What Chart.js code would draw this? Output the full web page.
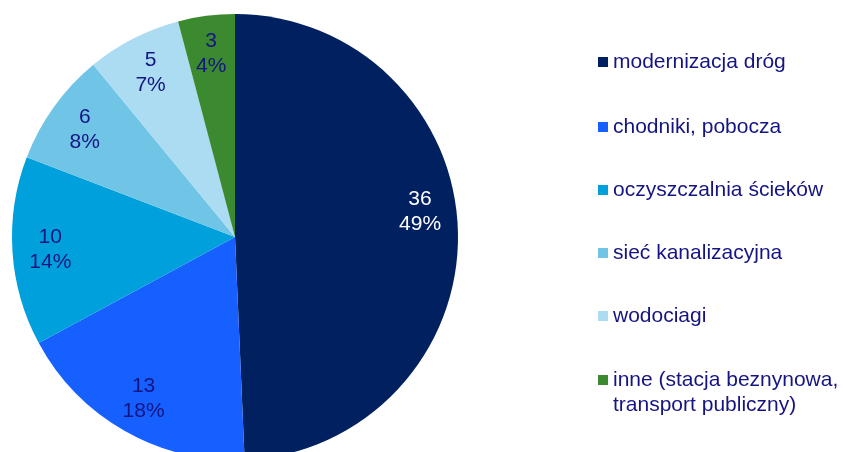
<!DOCTYPE html>
<html>
<head>
<meta charset="utf-8">
<script src="https://cdn.jsdelivr.net/npm/chart.js@4"></script>
<style>
  html, body { margin: 0; padding: 0; background: #fff; overflow: hidden; }
  #wrap { width: 843px; height: 452px; overflow: hidden; position: relative; }
  #wrap canvas { position: absolute; left: 0; top: 0; }
</style>
</head>
<body>
<div id="wrap"><canvas id="pie" width="843" height="460"></canvas></div>
<script>
const labels = ["modernizacja dróg", "chodniki, pobocza", "oczyszczalnia ścieków",
  "sieć kanalizacyjna", "wodociagi", "inne (stacja beznynowa, transport publiczny)"];
const legendLines = [["modernizacja dróg"], ["chodniki, pobocza"], ["oczyszczalnia ścieków"],
  ["sieć kanalizacyjna"], ["wodociagi"], ["inne (stacja beznynowa,", "transport publiczny)"]];
const values = [36, 13, 10, 6, 5, 3];
const colors = ["#002060", "#1660FF", "#00A0DC", "#70C5E6", "#ABDCF1", "#3C8A2F"];
const textColor = "#141482";
const FONT = "21px 'Liberation Sans', Arial, sans-serif";

// value + percent inside each slice
const sliceLabels = {
  id: 'sliceLabels',
  afterDatasetsDraw(chart) {
    const ctx = chart.ctx;
    const meta = chart.getDatasetMeta(0);
    const total = values.reduce((a, b) => a + b, 0);
    ctx.save();
    ctx.font = FONT;
    ctx.textAlign = 'center';
    ctx.textBaseline = 'middle';
    meta.data.forEach((arc, i) => {
      const p = arc.getProps(['x', 'y', 'startAngle', 'endAngle', 'outerRadius'], true);
      const mid = (p.startAngle + p.endAngle) / 2;
      const r = p.outerRadius * 0.83;
      const x = p.x + Math.cos(mid) * r;
      // the big slice's label sits a little higher, like in the original
      const y = p.y + Math.sin(mid) * r - (i === 0 ? 22 : 0);
      ctx.fillStyle = i === 0 ? '#ffffff' : textColor;
      ctx.fillText(String(values[i]), x, y - 12);
      ctx.fillText(Math.round(values[i] / total * 100) + '%', x, y + 13);
    });
    ctx.restore();
  }
};

// legend on the right side
const sideLegend = {
  id: 'sideLegend',
  afterDraw(chart) {
    const ctx = chart.ctx;
    const rowY = [62, 127, 190, 253, 316, 380];
    ctx.save();
    ctx.font = FONT;
    ctx.textAlign = 'left';
    ctx.textBaseline = 'middle';
    legendLines.forEach((lines, i) => {
      ctx.fillStyle = colors[i];
      ctx.fillRect(598, rowY[i] - 5, 10, 10);
      ctx.fillStyle = textColor;
      lines.forEach((t, j) => ctx.fillText(t, 613, rowY[i] + j * 25));
    });
    ctx.restore();
  }
};

const config = {
  type: 'pie',
  data: {
    labels: labels,
    datasets: [{
      data: values,
      backgroundColor: colors,
      borderWidth: 0
    }]
  },
  options: {
    responsive: false,
    animation: false,
    layout: { padding: { left: 12, top: 14, right: 385, bottom: 0 } },
    plugins: {
      legend: { display: false },
      tooltip: { enabled: false }
    }
  },
  plugins: [sliceLabels, sideLegend]
};

new Chart(document.getElementById('pie'), config);
</script>
</body>
</html>
